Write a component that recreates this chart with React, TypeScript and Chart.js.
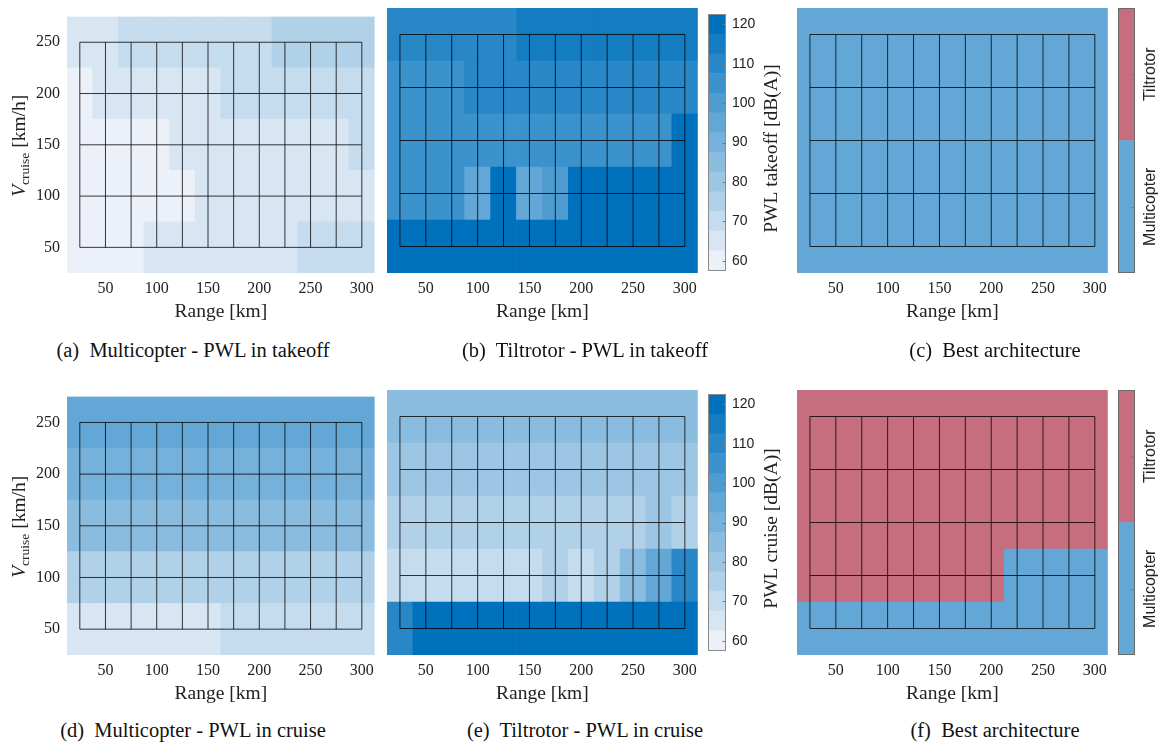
import React, { useEffect, useRef } from 'react';
import { Chart, registerables } from 'chart.js';

Chart.register(...registerables);

// ---------------- data ----------------
const rangeKm = [25, 50, 75, 100, 125, 150, 175, 200, 225, 250, 275, 300];
const vCruise = [50, 100, 150, 200, 250];
const rangeTicks = [50, 100, 150, 200, 250, 300];
const vTicks = [50, 100, 150, 200, 250];
const pwlTicks = [60, 70, 80, 90, 100, 110, 120];
const pwlLevels = [60, 65, 70, 75, 80, 85, 90, 95, 100, 105, 110, 115, 120];
const archNames = ['Multicopter', 'Tiltrotor'];

// rows: V_cruise = 50, 100, 150, 200, 250 km/h ; columns: range 25..300 km
const mcTakeoff = [
  [60, 60, 60, 65, 65, 65, 65, 65, 65, 70, 70, 70],
  [60, 60, 60, 60, 60, 65, 65, 65, 65, 65, 65, 65],
  [60, 60, 60, 60, 65, 65, 65, 65, 65, 65, 65, 70],
  [60, 65, 65, 65, 65, 65, 70, 70, 70, 70, 70, 70],
  [65, 65, 70, 70, 70, 70, 70, 70, 75, 75, 75, 75],
];
const trTakeoff = [
  [120, 120, 120, 120, 120, 120, 120, 120, 120, 120, 120, 120],
  [105, 105, 105, 95, 120, 95, 100, 120, 120, 120, 120, 120],
  [105, 105, 105, 105, 105, 105, 105, 105, 105, 105, 105, 120],
  [105, 105, 105, 110, 110, 110, 110, 110, 110, 110, 110, 110],
  [110, 110, 110, 110, 110, 115, 115, 115, 115, 115, 115, 115],
];
const bestTakeoff = [
  [0, 0, 0, 0, 0, 0, 0, 0, 0, 0, 0, 0],
  [0, 0, 0, 0, 0, 0, 0, 0, 0, 0, 0, 0],
  [0, 0, 0, 0, 0, 0, 0, 0, 0, 0, 0, 0],
  [0, 0, 0, 0, 0, 0, 0, 0, 0, 0, 0, 0],
  [0, 0, 0, 0, 0, 0, 0, 0, 0, 0, 0, 0],
];
const mcCruise = [
  [65, 65, 65, 65, 65, 65, 70, 70, 70, 70, 70, 70],
  [75, 75, 75, 75, 75, 75, 75, 75, 75, 75, 75, 75],
  [85, 85, 85, 85, 85, 85, 85, 85, 85, 85, 85, 85],
  [90, 90, 90, 90, 90, 90, 90, 90, 90, 90, 90, 90],
  [95, 95, 95, 95, 95, 95, 95, 95, 95, 95, 95, 95],
];
const trCruise = [
  [110, 120, 120, 120, 120, 120, 120, 120, 120, 120, 120, 120],
  [70, 70, 70, 70, 70, 70, 75, 70, 75, 85, 95, 110],
  [75, 75, 75, 75, 75, 75, 75, 75, 75, 75, 80, 75],
  [80, 80, 80, 80, 80, 80, 80, 80, 80, 80, 80, 80],
  [85, 85, 85, 85, 85, 85, 85, 85, 85, 85, 85, 85],
];
const bestCruise = [
  [0, 0, 0, 0, 0, 0, 0, 0, 0, 0, 0, 0],
  [1, 1, 1, 1, 1, 1, 1, 1, 0, 0, 0, 0],
  [1, 1, 1, 1, 1, 1, 1, 1, 1, 1, 1, 1],
  [1, 1, 1, 1, 1, 1, 1, 1, 1, 1, 1, 1],
  [1, 1, 1, 1, 1, 1, 1, 1, 1, 1, 1, 1],
];

// ---------------- styling ----------------
const SERIF = '"Liberation Serif", "Times New Roman", serif';
const SANS = '"Liberation Sans", Arial, sans-serif';
const TEXT = '#222222';
const PWL_LOW = [236, 240, 248];
const PWL_HIGH = [0, 114, 189];
const archColors = ['#63A7D6', '#C66E7E'];

function pwlColor(v: number): string {
  const lo = pwlLevels[0];
  const hi = pwlLevels[pwlLevels.length - 1];
  const t = Math.max(0, Math.min(1, (v - lo) / (hi - lo)));
  const c = PWL_LOW.map((a, i) => Math.round(a + (PWL_HIGH[i] - a) * t));
  return `rgb(${c[0]},${c[1]},${c[2]})`;
}
function archColor(v: number): string {
  return archColors[v];
}

const dx = rangeKm[1] - rangeKm[0];
const dy = vCruise[1] - vCruise[0];

function meshPoints() {
  const pts: any[] = [];
  const y0 = vCruise[0];
  const y1 = vCruise[vCruise.length - 1];
  const x0 = rangeKm[0];
  const x1 = rangeKm[rangeKm.length - 1];
  for (const x of rangeKm) {
    pts.push({ x, y: y0 }, { x, y: y1 }, { x, y: null });
  }
  for (const y of vCruise) {
    pts.push({ x: x0, y }, { x: x1, y }, { x: x1, y: null });
  }
  return pts;
}

type Box = { left: number; top: number; width: number; height: number };

function vLabelPlugin(show: boolean) {
  return {
    id: 'vlabel',
    afterDraw(chart: any) {
      if (!show) return;
      const { ctx, chartArea: a } = chart;
      const parts = [
        { t: 'V', f: `italic 19.5px ${SERIF}`, dy: 0 },
        { t: 'cruise', f: `13.5px ${SERIF}`, dy: 4 },
        { t: ' [km/h]', f: `19.5px ${SERIF}`, dy: 0 },
      ];
      ctx.save();
      let total = 0;
      const widths = parts.map((p) => {
        ctx.font = p.f;
        const w = ctx.measureText(p.t).width;
        total += w;
        return w;
      });
      ctx.translate(18, (a.top + a.bottom) / 2 + 1);
      ctx.rotate(-Math.PI / 2);
      ctx.fillStyle = TEXT;
      ctx.textBaseline = 'alphabetic';
      let x = -total / 2;
      parts.forEach((p, i) => {
        ctx.font = p.f;
        ctx.fillText(p.t, x, 7 + p.dy);
        x += widths[i];
      });
      ctx.restore();
    },
  };
}

function heatConfig(values: number[][], colorFn: (v: number) => string, box: Box, area: number[], showY: boolean) {
  const [al, at, ar, ab] = area;
  const datasets: any[] = values.map((row, r) => ({
    type: 'bar',
    data: rangeKm.map((x) => ({ x, y: [vCruise[r] - dy / 2, vCruise[r] + dy / 2] })),
    backgroundColor: row.map(colorFn),
    borderWidth: 0,
    barPercentage: 1,
    categoryPercentage: 1,
    grouped: false,
    order: 2,
  }));
  datasets.push({
    type: 'line',
    data: meshPoints(),
    borderColor: 'rgba(0,0,0,0.78)',
    borderWidth: 1,
    pointRadius: 0,
    spanGaps: false,
    tension: 0,
    fill: false,
    order: 1,
  });
  return {
    type: 'bar',
    data: { datasets },
    plugins: [vLabelPlugin(showY)],
    options: {
      responsive: false,
      animation: false,
      events: [],
      layout: {
        padding: {
          left: showY ? 0 : al - box.left,
          top: at - box.top,
          right: box.left + box.width - ar,
          bottom: 0,
        },
      },
      plugins: { legend: { display: false }, tooltip: { enabled: false } },
      scales: {
        x: {
          type: 'linear',
          offset: false,
          min: rangeKm[0] - dx / 2,
          max: rangeKm[rangeKm.length - 1] + dx / 2,
          grid: { display: false, drawTicks: false },
          border: { display: false },
          afterBuildTicks: (s: any) => {
            s.ticks = rangeTicks.map((v) => ({ value: v }));
          },
          afterFit: (s: any) => {
            s.height = box.top + box.height - ab;
          },
          ticks: {
            font: { family: SERIF, size: 16 },
            color: TEXT,
            padding: 6,
            maxRotation: 0,
            autoSkip: false,
          },
          title: {
            display: true,
            text: 'Range [km]',
            font: { family: SERIF, size: 19.5 },
            color: TEXT,
            padding: 0,
          },
        },
        y: {
          type: 'linear',
          display: showY,
          min: vCruise[0] - dy / 2,
          max: vCruise[vCruise.length - 1] + dy / 2,
          grid: { display: false, drawTicks: false },
          border: { display: false },
          afterBuildTicks: (s: any) => {
            s.ticks = vTicks.map((v) => ({ value: v }));
          },
          afterFit: (s: any) => {
            if (showY) s.width = al - box.left;
          },
          ticks: {
            font: { family: SERIF, size: 16 },
            color: TEXT,
            padding: 7,
          },
        },
      },
    },
  };
}

function cbDecorPlugin(kind: 'pwl' | 'arch', title: string) {
  return {
    id: 'cbdecor',
    afterDraw(chart: any) {
      const { ctx, chartArea: a } = chart;
      const ys = chart.scales.y;
      ctx.save();
      ctx.strokeStyle = kind === 'pwl' ? '#8a8a8a' : '#6a6a6a';
      ctx.lineWidth = 1;
      const l = Math.round(a.left) + 0.5;
      const t = Math.round(a.top) + 0.5;
      const r = Math.round(a.right) - 0.5;
      const b = Math.round(a.bottom) - 0.5;
      ctx.strokeRect(l, t, r - l, b - t);
      const tickVals = kind === 'pwl' ? pwlTicks : archNames.map((_, i) => i + 0.5);
      ctx.beginPath();
      for (const v of tickVals) {
        const py = Math.round(ys.getPixelForValue(v)) + 0.5;
        ctx.moveTo(r - 3, py);
        ctx.lineTo(r, py);
      }
      ctx.strokeStyle = '#777';
      ctx.stroke();
      ctx.fillStyle = TEXT;
      ctx.textAlign = 'center';
      ctx.textBaseline = 'middle';
      if (kind === 'pwl') {
        ctx.translate(a.right + 46, (a.top + a.bottom) / 2 + 6);
        ctx.rotate(-Math.PI / 2);
        ctx.font = `19.5px ${SERIF}`;
        ctx.fillText(title, 0, 0);
      } else {
        archNames.forEach((name, i) => {
          ctx.save();
          ctx.translate(a.right + 16, ys.getPixelForValue(i + 0.5));
          ctx.rotate(-Math.PI / 2);
          ctx.font = `16px ${SANS}`;
          ctx.fillText(name, 0, 0);
          ctx.restore();
        });
      }
      ctx.restore();
    },
  };
}

function colorbarConfig(kind: 'pwl' | 'arch', title: string, box: Box, area: number[]) {
  const [al, at, ar, ab] = area;
  let datasets: any[];
  let yMin: number;
  let yMax: number;
  if (kind === 'pwl') {
    const step = pwlLevels[1] - pwlLevels[0];
    datasets = pwlLevels.map((lv) => ({
      data: [[lv - step / 2, lv + step / 2]],
      backgroundColor: pwlColor(lv),
      borderWidth: 0,
      barPercentage: 1,
      categoryPercentage: 1,
      grouped: false,
    }));
    yMin = pwlLevels[0] - step / 2;
    yMax = pwlLevels[pwlLevels.length - 1] + step / 2;
  } else {
    datasets = archNames.map((_, i) => ({
      data: [[i, i + 1]],
      backgroundColor: archColors[i],
      borderWidth: 0,
      barPercentage: 1,
      categoryPercentage: 1,
      grouped: false,
    }));
    yMin = 0;
    yMax = archNames.length;
  }
  return {
    type: 'bar',
    data: { labels: [''], datasets },
    plugins: [cbDecorPlugin(kind, title)],
    options: {
      responsive: false,
      animation: false,
      events: [],
      layout: {
        padding: { left: al - box.left, top: at - box.top, right: 0, bottom: box.top + box.height - ab },
      },
      plugins: { legend: { display: false }, tooltip: { enabled: false } },
      scales: {
        x: { display: false },
        y: {
          position: 'right',
          min: yMin,
          max: yMax,
          grid: { display: false, drawTicks: false },
          border: { display: false },
          afterBuildTicks: (s: any) => {
            if (kind === 'pwl') s.ticks = pwlTicks.map((v) => ({ value: v }));
          },
          afterFit: (s: any) => {
            s.width = box.left + box.width - ar;
          },
          ticks: {
            display: kind === 'pwl',
            font: { family: SANS, size: 14 },
            color: TEXT,
            padding: 6,
          },
        },
      },
    },
  };
}

function ChartCanvas({ box, make }: { box: Box; make: () => any }) {
  const ref = useRef<HTMLCanvasElement | null>(null);
  useEffect(() => {
    const chart = new Chart(ref.current as HTMLCanvasElement, make());
    return () => chart.destroy();
  }, []);
  return (
    <canvas
      ref={ref}
      width={box.width}
      height={box.height}
      style={{ position: 'absolute', left: box.left, top: box.top, width: box.width, height: box.height }}
    />
  );
}

const captionStyle = (cx: number, cy: number): React.CSSProperties => ({
  position: 'absolute',
  left: cx - 220,
  top: cy - 12,
  width: 440,
  height: 24,
  lineHeight: '24px',
  textAlign: 'center',
  fontFamily: SERIF,
  fontSize: '20.5px',
  color: '#111',
  whiteSpace: 'pre',
});

export default function App() {
  const TOP_H = 324;
  const BOT_TOP = 380;
  const BOT_H = 326;
  const panels = [
    { box: { left: 0, top: 0, width: 380, height: TOP_H }, area: [67, 10, 376, 273], v: mcTakeoff, c: pwlColor, y: true },
    { box: { left: 383, top: 0, width: 320, height: TOP_H }, area: [387, 8, 699, 273], v: trTakeoff, c: pwlColor, y: false },
    { box: { left: 793, top: 0, width: 320, height: TOP_H }, area: [797, 8, 1109, 273], v: bestTakeoff, c: archColor, y: false },
    { box: { left: 0, top: BOT_TOP, width: 380, height: BOT_H }, area: [67, 392, 376, 655], v: mcCruise, c: pwlColor, y: true },
    { box: { left: 383, top: BOT_TOP, width: 320, height: BOT_H }, area: [387, 390, 699, 655], v: trCruise, c: pwlColor, y: false },
    { box: { left: 793, top: BOT_TOP, width: 320, height: BOT_H }, area: [797, 390, 1109, 655], v: bestCruise, c: archColor, y: false },
  ];
  const bars = [
    { kind: 'pwl' as const, title: 'PWL takeoff [dB(A)]', box: { left: 700, top: 0, width: 100, height: 285 }, area: [708, 8, 726, 273] },
    { kind: 'arch' as const, title: '', box: { left: 1110, top: 0, width: 51, height: 285 }, area: [1118, 8, 1135, 273] },
    { kind: 'pwl' as const, title: 'PWL cruise [dB(A)]', box: { left: 700, top: BOT_TOP, width: 100, height: 285 }, area: [708, 390, 726, 655] },
    { kind: 'arch' as const, title: '', box: { left: 1110, top: BOT_TOP, width: 51, height: 285 }, area: [1118, 390, 1135, 655] },
  ];
  const captions = [
    { t: '(a)  Multicopter - PWL in takeoff', x: 193, y: 350 },
    { t: '(b)  Tiltrotor - PWL in takeoff', x: 585, y: 350 },
    { t: '(c)  Best architecture', x: 995, y: 350 },
    { t: '(d)  Multicopter - PWL in cruise', x: 193, y: 730 },
    { t: '(e)  Tiltrotor - PWL in cruise', x: 585, y: 730 },
    { t: '(f)  Best architecture', x: 995, y: 730 },
  ];
  return (
    <div style={{ position: 'absolute', left: 0, top: 0, width: 1161, height: 745, background: '#fff', overflow: 'hidden' }}>
      {panels.map((p, i) => (
        <ChartCanvas key={'p' + i} box={p.box} make={() => heatConfig(p.v, p.c, p.box, p.area, p.y)} />
      ))}
      {bars.map((b, i) => (
        <ChartCanvas key={'b' + i} box={b.box} make={() => colorbarConfig(b.kind, b.title, b.box, b.area)} />
      ))}
      {captions.map((c, i) => (
        <div key={'c' + i} style={captionStyle(c.x, c.y)}>
          {c.t}
        </div>
      ))}
    </div>
  );
}
